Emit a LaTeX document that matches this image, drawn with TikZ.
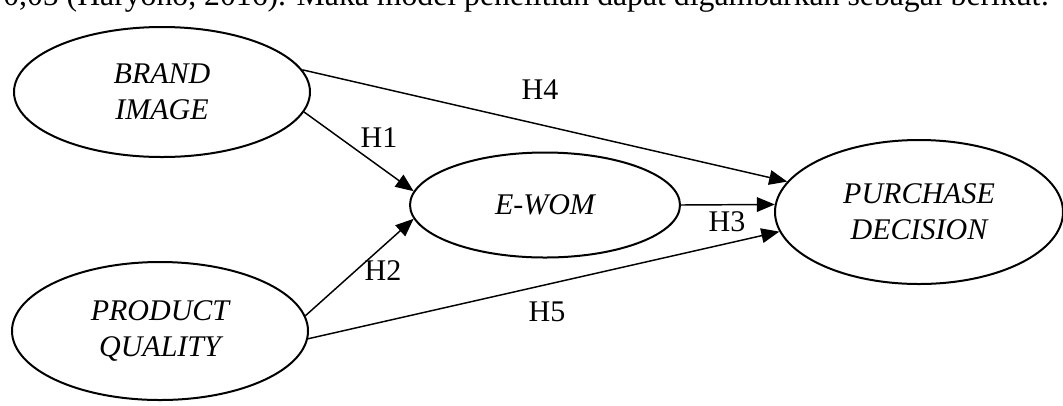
\documentclass[tikz,border=0pt]{standalone}
\usepackage{fontspec}
\setmainfont{Liberation Serif}
\usetikzlibrary{shapes.geometric,arrows.meta}
\begin{document}
\begin{tikzpicture}[x=0.75pt,y=-0.75pt,
  construct/.style={ellipse,draw,line width=1.5pt,inner sep=0pt,align=center,
    font=\fontsize{22.5}{27}\selectfont\itshape},
  link/.style={line width=1.1pt,-{Triangle[length=13.5pt,width=11pt]}},
  hlabel/.style={font=\fontsize{22.5}{27}\selectfont,inner sep=0pt}]
\useasboundingbox (0,0) rectangle (1063,405);
\clip (0,0) rectangle (1063,405);
\node[anchor=base west,inner sep=0pt,font=\fontsize{23.8}{28}\selectfont] (top) at (3,5)
  {0,05 (Haryono, 2016). Maka model penelitian dapat digambarkan sebagai berikut:};
\node[construct,minimum width=222pt,minimum height=97.5pt] (BI) at (162,92) {BRAND\\IMAGE};
\node[construct,minimum width=222pt,minimum height=103.5pt] (PQ) at (160,331) {PRODUCT\\QUALITY};
\node[construct,minimum width=202.5pt,minimum height=78.75pt] (EW) at (545,205) {E-WOM};
\node[construct,minimum width=216pt,minimum height=108pt] (PD) at (919,212) {PURCHASE\\DECISION};
\draw[link] (BI.9) -- (PD.167);
\draw[link] (BI.-8) -- (EW.174);
\draw[link] (PQ.6.5) -- (EW.186);
\draw[link] (EW.east) -- (PD.177);
\draw[link] (PQ.-3.5) -- (PD.188.5);
\node[hlabel] (h4) at (540,90) {H4};
\node[hlabel] (h1) at (379,138) {H1};
\node[hlabel] (h2) at (383,271) {H2};
\node[hlabel] (h3) at (727,222) {H3};
\node[hlabel] (h5) at (547,312) {H5};
\end{tikzpicture}
\end{document}
